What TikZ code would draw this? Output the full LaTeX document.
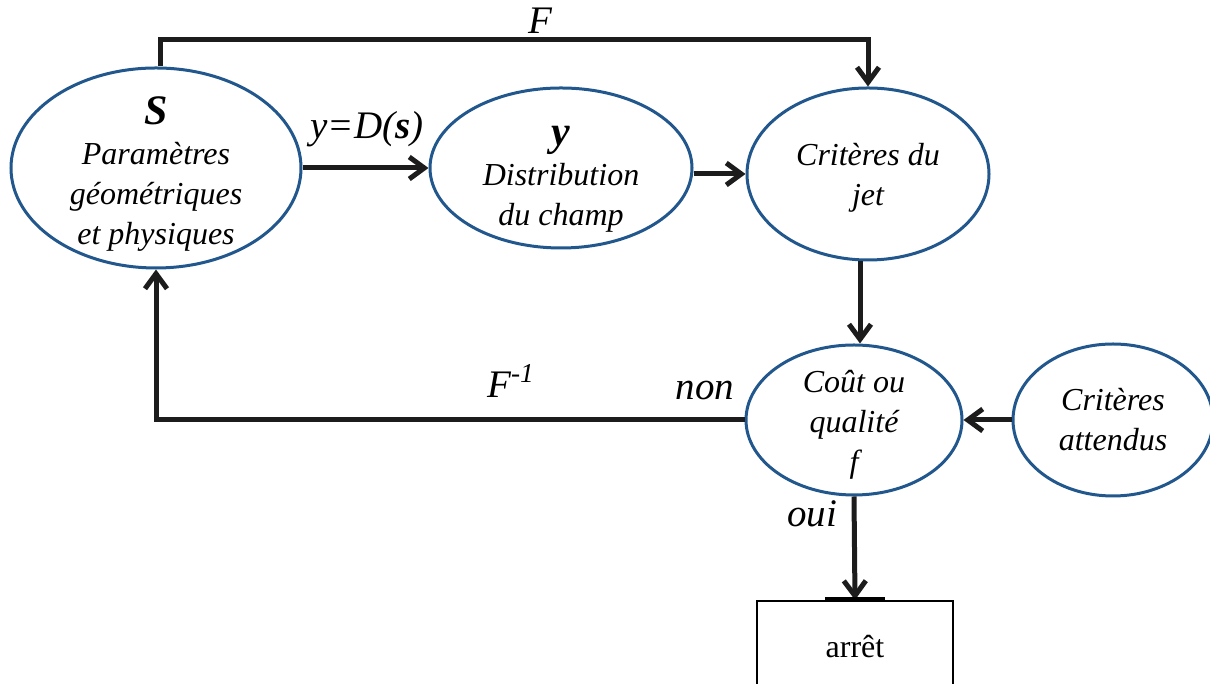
\documentclass[tikz,border=0pt]{standalone}
\usepackage{fontspec}
\setmainfont{Liberation Serif}
\usetikzlibrary{shapes.geometric,arrows.meta,positioning,calc}
\definecolor{ovalblue}{RGB}{33,87,140}
\definecolor{arrowblack}{RGB}{28,28,28}
\tikzset{
oval/.style={ellipse,draw=ovalblue,line width=1.5pt,inner sep=0pt},
ovaltext/.style={align=center,font=\fontsize{16}{20}\selectfont\itshape,inner sep=0pt},
flowarr/.style={draw=arrowblack,line width=2.5pt,-{Straight Barb[length=7.5pt,width=11pt]}},
flowlab/.style={font=\fontsize{19.5}{22}\selectfont\itshape,inner sep=0pt,anchor=base},
stopbox/.style={rectangle,draw=black,line width=1pt,minimum width=98pt,minimum height=46pt,
  inner sep=0pt,font=\fontsize{16}{20}\selectfont}
}
\newcommand{\bigvar}[1]{{\fontsize{21}{20}\selectfont\bfseries\itshape #1}}

\begin{document}
\begin{tikzpicture}[x=0.5pt,y=0.5pt]
\clip (0,0) rectangle (1210,684);
% ellipses
\node[oval,minimum width=145pt,minimum height=100pt] (S) at (156,516) {};
\node[oval,minimum width=131pt,minimum height=80pt] (Dy) at (561,516) {};
\node[oval,minimum width=121pt,minimum height=86pt] (jet) at (868,510) {};
\node[oval,minimum width=108pt,minimum height=75pt] (cout) at (854,264) {};
\node[oval,minimum width=100pt,minimum height=76pt] (att) at (1113,264) {};
\node[stopbox] (arret) at (855,37) {arrêt};
% texts in the ellipses
\node[ovaltext] (Stxt) at (156,510) {\bigvar{S}\\Paramètres\\géométriques\\et physiques};
\node[ovaltext] (Dytxt) at (561,505) {\bigvar{y}\\Distribution\\du champ};
\node[ovaltext] (jettxt) at (868,506) {Critères du\\jet};
\node[ovaltext] (couttxt) at (854,259) {Coût ou\\qualité\\f};
\node[ovaltext] (atttxt) at (1113,264) {Critères\\attendus};
% labels
\node[flowlab] (Flab) at (540,650) {F};
\node[flowlab] (Dlab) at (367,545) {y=D(\textbf{s})};
\node[flowlab] (Finv) at (511,286) {F\textsuperscript{-1}};
\node[flowlab] (nonlab) at (705,284) {non};
\node[flowlab] (ouilab) at (812,157) {oui};
% connectors
\draw[flowarr] (S.east) -- (Dy.west);
\draw[flowarr] (jet.west -| Dy.east) -- (jet.west);
\draw[flowarr] ([xshift=2pt]S.north) -- ++(0,27) -| (jet.north);
\draw[flowarr] ([xshift=-4pt]jet.south) -- ([xshift=-4pt]jet.south |- cout.north);
\draw[flowarr] (att.west) -- (cout.east);
\draw[flowarr] (cout.west) -| (S.south);
\draw[flowarr] (cout.south) -- (arret.north);
\draw[line width=2.5pt] ([xshift=-15pt]arret.north) -- ([xshift=15pt]arret.north);
\end{tikzpicture}
\end{document}
